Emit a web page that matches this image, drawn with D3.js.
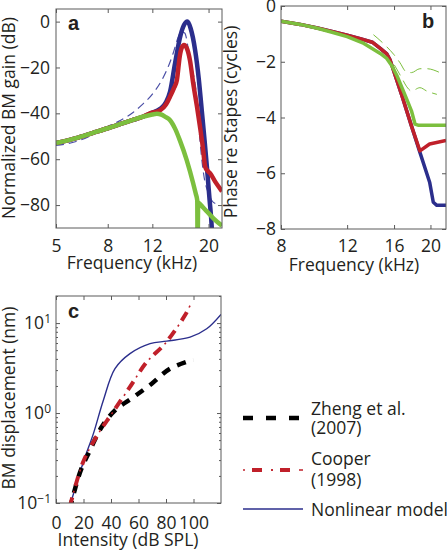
<!DOCTYPE html>
<html><head><meta charset="utf-8">
<script src="https://cdn.jsdelivr.net/npm/d3@7"></script>
<style>
body{margin:0;background:#fff}
svg{display:block}
text{font-family:"Open Sans",sans-serif;fill:#231f20}
</style>
</head><body>
<svg id="chart" width="447" height="555"></svg>
<script>
// ---------- DATA ----------
// Panel a: normalized BM gain (dB) vs frequency (kHz)
const gainTicks = [0, -20, -40, -60, -80];
const freqTicksA = [5, 8, 12, 20];
const gainBlueDashed = [[5,-54],[6,-52.3],[7,-49.3],[8,-45.8],[9,-43],[10.1,-39.5],[11,-36],[12.07,-31.3],[13,-26],[13.6,-21.8],[14.5,-13.8],[15.1,-7.5],[15.6,-4.5],[16.1,-5],[16.9,-16.7],[18.0,-34],[18.5,-51.7],[19.1,-66],[20.0,-75],[20.6,-78],[21.5,-79.5]];
const gainBlue = [[5,-53],[6,-50.8],[7,-48.5],[8,-46.5],[9,-44.6],[10,-43],[11,-41.5],[11.8,-40],[12.9,-38],[13.6,-35],[14.1,-30.5],[14.76,-18],[15.5,-6],[16.0,-1.5],[16.5,0],[17.0,-3],[17.7,-12.4],[18.3,-25],[18.8,-38.6],[19.3,-52],[19.7,-63.3],[20.2,-78],[20.6,-90],[20.8,-100]];
const gainRed = [[5,-53],[6,-50.8],[7,-48.5],[8,-46.5],[9,-44.6],[10,-43],[11,-41.5],[11.76,-40],[12.9,-38.6],[13.6,-36],[14.1,-32.7],[14.6,-29],[15.0,-25.5],[15.4,-15],[15.7,-11.2],[16.0,-10.2],[16.4,-11.5],[16.9,-17],[17.4,-27],[18.0,-37],[18.5,-45.8],[19.0,-55],[19.4,-63.3],[19.8,-65],[20.3,-66.2],[21.3,-70],[22.6,-74]];
const gainGreen = [[5,-53],[6,-50.8],[7,-48.5],[8,-46.5],[9,-44.6],[10,-43],[11,-41.5],[12,-40.5],[12.5,-40.2],[13,-40.5],[13.5,-41.5],[14.1,-43],[14.8,-47],[15.4,-51.7],[16.4,-60.4],[17.4,-70.6],[17.8,-75],[18.05,-78],[18.1,-100],[18.2,-79],[18.5,-79.5],[19,-81],[20,-83.5],[21,-86],[22.6,-89]];

// Panel b: phase re stapes (cycles) vs frequency (kHz)
const phaseTicks = [0, -2, -4, -6, -8];
const freqTicksB = [8, 12, 16, 20];
const phaseBlue = [[8,-0.55],[9,-0.66],[10,-0.79],[11,-0.92],[12,-1.05],[13,-1.17],[14,-1.3],[14.7,-1.52],[15.3,-1.72],[15.6,-1.92],[16.8,-3.23],[17.8,-4.3],[18.75,-5.25],[19.9,-6.32],[20.35,-7.04],[20.8,-7.15],[22,-7.15]];
const phaseRed = [[8,-0.55],[9,-0.66],[10,-0.79],[11,-0.92],[12,-1.05],[13,-1.17],[14,-1.3],[14.7,-1.52],[15.3,-1.72],[15.6,-1.92],[16.8,-3.23],[17.8,-4.3],[18.75,-5.2],[19.9,-4.95],[22,-4.82]];
const phaseGreen = [[8,-0.55],[9,-0.66],[10,-0.8],[11,-0.95],[12,-1.1],[13.2,-1.32],[14.7,-1.7],[15.3,-1.88],[15.8,-2.15],[16.3,-2.51],[17.3,-3.35],[17.8,-3.76],[18.2,-4.24],[18.6,-4.28],[22,-4.28]];
const phaseExpUpper = [[14.1,-1.03],[15.0,-1.35],[16.0,-1.75],[16.6,-2.04],[17.2,-2.35],[17.8,-2.39],[18.75,-2.25],[19.55,-2.25],[21.2,-2.39]];
const phaseExpLower = [[15.0,-1.6],[16.0,-2.1],[16.8,-2.6],[17.3,-2.9],[17.8,-3.05],[18.75,-2.93],[19.55,-3.05],[20.8,-3.17]];

// Panel c: BM displacement (nm) vs intensity (dB SPL)
const intensityTicks = [0, 20, 40, 60, 80, 100];
const dispTicks = [0.1, 1, 10];
const dispMinor = [0.2,0.3,0.4,0.5,0.6,0.7,0.8,0.9,2,3,4,5,6,7,8,9,20];
const zheng = [[10,0.085],[17.5,0.22],[24.7,0.385],[33.2,0.70],[42.9,1.07],[56.2,1.5],[69.6,2.12],[82.9,3.11],[99.9,3.92]];
const cooper = [[10,0.09],[19.9,0.29],[30.8,0.59],[40.5,0.98],[53.8,1.95],[66,3.69],[79.3,5.9],[93.8,12.2],[97.5,15.7]];
const nonlinear = [[10.7,0.10],[19.9,0.286],[27.2,0.59],[34.4,1.38],[42.9,3.11],[53.8,4.57],[68.4,5.9],[80.5,6.3],[97.5,6.98],[109.6,8.65],[120,12.5]];

const legendEntries = [["Zheng et al.","(2007)"],["Cooper","(1998)"],["Nonlinear model"]];

// ---------- COLORS ----------
const BLUE = "#2b2e8c", RED = "#c0202a", GREEN = "#7cbf3e", AXIS = "#5a5a5a";

const svg = d3.select("#chart");
const FS = "17.5px";

function box(g, x0, x1, y0, y1) {
  g.append("rect").attr("x", x0).attr("y", y0).attr("width", x1 - x0).attr("height", y1 - y0)
    .attr("fill", "none").attr("stroke", AXIS).attr("stroke-width", 1);
}
function styleAxis(sel) {
  sel.select(".domain").remove();
  sel.selectAll("line").attr("stroke", AXIS);
  sel.selectAll("text").style("font-size", FS).attr("fill", "#231f20").style("font-family", '"Open Sans",sans-serif');
}
function clip(id, x0, x1, y0, y1) {
  svg.append("clipPath").attr("id", id).append("rect")
    .attr("x", x0).attr("y", y0).attr("width", x1 - x0).attr("height", y1 - y0);
}

// ---------- PANEL A ----------
{
  const L = 56, R = 222, T = 9, B = 228;
  const x = d3.scaleLog().domain([5, 22.6]).range([L, R]);
  const y = d3.scaleLinear().domain([-90, 5.5]).range([B, T]);
  const g = svg.append("g");
  clip("clipA", L, R, T, B);
  const line = d3.line().x(d => x(d[0])).y(d => y(d[1])).curve(d3.curveMonotoneX);
  const pg = g.append("g").attr("clip-path", "url(#clipA)");
  pg.append("path").datum(gainBlueDashed).attr("d", line).attr("fill", "none")
    .attr("stroke", "#4b4fa6").attr("stroke-width", 1.2).attr("stroke-dasharray", "8,5");
  pg.append("path").datum(gainBlue).attr("d", line).attr("fill", "none")
    .attr("stroke", BLUE).attr("stroke-width", 4.5);
  pg.append("path").datum(gainRed).attr("d", line).attr("fill", "none")
    .attr("stroke", RED).attr("stroke-width", 4.5);
  pg.append("path").datum(gainGreen).attr("d", line).attr("fill", "none")
    .attr("stroke", GREEN).attr("stroke-width", 4.5);
  box(g, L, R, T, B);
  g.append("g").attr("transform", `translate(${L},0)`)
    .call(d3.axisLeft(y).tickValues(gainTicks).tickSize(-4).tickPadding(6)).call(styleAxis);
  g.append("g").attr("transform", `translate(${R},0)`)
    .call(d3.axisRight(y).tickValues(gainTicks).tickSize(-4).tickFormat("")).call(styleAxis);
  g.append("g").attr("transform", `translate(0,${B})`)
    .call(d3.axisBottom(x).tickValues(freqTicksA).tickSize(-4).tickPadding(12).tickFormat(d3.format("d"))).call(styleAxis);
  g.append("g").attr("transform", `translate(0,${T})`)
    .call(d3.axisTop(x).tickValues(freqTicksA).tickSize(-4).tickFormat("")).call(styleAxis);
  g.append("text").attr("x", 68).attr("y", 30).text("a")
    .style("font-family", "Liberation Sans, Arial, sans-serif").style("font-weight", "bold").style("font-size", "20px");
  g.append("text").attr("transform", "translate(15,118) rotate(-90)").attr("text-anchor", "middle")
    .style("font-size", FS).text("Normalized BM gain (dB)");
  g.append("text").attr("x", 132).attr("y", 269).attr("text-anchor", "middle")
    .style("font-size", FS).text("Frequency (kHz)");
}

// ---------- PANEL B ----------
{
  const L = 281, R = 446, T = 6, B = 229;
  const x = d3.scaleLog().domain([8, 22]).range([L, R]);
  const y = d3.scaleLinear().domain([-8, 0]).range([B, T]);
  const g = svg.append("g");
  clip("clipB", L, R, T, B);
  const line = d3.line().x(d => x(d[0])).y(d => y(d[1]));
  const smooth = d3.line().x(d => x(d[0])).y(d => y(d[1])).curve(d3.curveMonotoneX);
  const pg = g.append("g").attr("clip-path", "url(#clipB)");
  [phaseExpUpper, phaseExpLower].forEach(s => {
    pg.append("path").datum(s).attr("d", smooth).attr("fill", "none")
      .attr("stroke", GREEN).attr("stroke-width", 1).attr("stroke-dasharray", "12,6");
  });
  pg.append("path").datum(phaseBlue).attr("d", line).attr("fill", "none")
    .attr("stroke", BLUE).attr("stroke-width", 3.5).attr("stroke-linejoin", "round");
  pg.append("path").datum(phaseRed).attr("d", line).attr("fill", "none")
    .attr("stroke", RED).attr("stroke-width", 3.5).attr("stroke-linejoin", "round");
  pg.append("path").datum(phaseGreen).attr("d", line).attr("fill", "none")
    .attr("stroke", GREEN).attr("stroke-width", 3.5).attr("stroke-linejoin", "round");
  box(g, L, R, T, B);
  g.append("g").attr("transform", `translate(${L},0)`)
    .call(d3.axisLeft(y).tickValues(phaseTicks).tickSize(-4).tickPadding(5)).call(styleAxis);
  g.append("g").attr("transform", `translate(${R},0)`)
    .call(d3.axisRight(y).tickValues(phaseTicks).tickSize(-4).tickFormat("")).call(styleAxis);
  g.append("g").attr("transform", `translate(0,${B})`)
    .call(d3.axisBottom(x).tickValues(freqTicksB).tickSize(-4).tickPadding(11).tickFormat(d3.format("d"))).call(styleAxis);
  g.append("g").attr("transform", `translate(0,${T})`)
    .call(d3.axisTop(x).tickValues(freqTicksB).tickSize(-4).tickFormat("")).call(styleAxis);
  g.append("text").attr("x", 422).attr("y", 28).text("b")
    .style("font-family", "Liberation Sans, Arial, sans-serif").style("font-weight", "bold").style("font-size", "20px");
  g.append("text").attr("transform", "translate(237,122) rotate(-90)").attr("text-anchor", "middle")
    .style("font-size", FS).text("Phase re Stapes (cycles)");
  g.append("text").attr("x", 354).attr("y", 271).attr("text-anchor", "middle")
    .style("font-size", FS).text("Frequency (kHz)");
}

// ---------- PANEL C ----------
{
  const L = 56, R = 221, T = 296, B = 503;
  const x = d3.scaleLinear().domain([0, 120]).range([L, R]);
  const y = d3.scaleLog().domain([0.1, 20]).range([B, T]);
  const g = svg.append("g");
  clip("clipC", L, R, T, B);
  const line = d3.line().x(d => x(d[0])).y(d => y(d[1])).curve(d3.curveCatmullRom.alpha(0.5));
  const pg = g.append("g").attr("clip-path", "url(#clipC)");
  pg.append("path").datum(nonlinear).attr("d", line).attr("fill", "none")
    .attr("stroke", BLUE).attr("stroke-width", 1.4);
  pg.append("path").datum(zheng).attr("d", line).attr("fill", "none")
    .attr("stroke", "#000").attr("stroke-width", 4.5).attr("stroke-dasharray", "9,8");
  // Cooper: thick dashes + thin dots (dash-dot)
  pg.append("path").datum(cooper).attr("d", line).attr("fill", "none")
    .attr("stroke", RED).attr("stroke-width", 4).attr("stroke-dasharray", "10,12");
  pg.append("path").datum(cooper).attr("d", line).attr("fill", "none")
    .attr("stroke", RED).attr("stroke-width", 1.6).attr("stroke-dasharray", "0,15,2,5");
  box(g, L, R, T, B);
  const yl = g.append("g").attr("transform", `translate(${L},0)`)
    .call(d3.axisLeft(y).tickValues(dispTicks).tickSize(-4).tickPadding(5).tickFormat(() => "")).call(styleAxis);
  yl.selectAll(".tick text").each(function(d) {
    const t = d3.select(this);
    t.append("tspan").text("10");
    t.append("tspan").attr("dy", "-0.55em").style("font-size", "12px").text(d3.format("d")(Math.round(Math.log10(d))).replace("-", "\u2212"));
  });
  g.append("g").attr("transform", `translate(${L},0)`)
    .call(d3.axisLeft(y).tickValues(dispMinor).tickSize(-2).tickFormat("")).call(styleAxis);
  g.append("g").attr("transform", `translate(${R},0)`)
    .call(d3.axisRight(y).tickValues(dispTicks).tickSize(-4).tickFormat("")).call(styleAxis);
  g.append("g").attr("transform", `translate(${R},0)`)
    .call(d3.axisRight(y).tickValues(dispMinor).tickSize(-2).tickFormat("")).call(styleAxis);
  g.append("g").attr("transform", `translate(0,${B})`)
    .call(d3.axisBottom(x).tickValues(intensityTicks).tickSize(-4).tickPadding(14).tickFormat(d3.format("d"))).call(styleAxis);
  g.append("g").attr("transform", `translate(0,${T})`)
    .call(d3.axisTop(x).tickValues(intensityTicks).tickSize(-4).tickFormat("")).call(styleAxis);
  g.append("text").attr("x", 68).attr("y", 318).text("c")
    .style("font-family", "Liberation Sans, Arial, sans-serif").style("font-weight", "bold").style("font-size", "20px");
  g.append("text").attr("transform", "translate(15,398) rotate(-90)").attr("text-anchor", "middle")
    .style("font-size", FS).text("BM displacement (nm)");
  g.append("text").attr("x", 128).attr("y", 546).attr("text-anchor", "middle")
    .style("font-size", FS).text("Intensity (dB SPL)");

  // legend
  const lg = svg.append("g");
  const styles = [
    {stroke: "#000", parts: [{w: 4.5, dash: "10,13"}], ly: 418, ty: [415, 434]},
    {stroke: RED, parts: [{w: 4, dash: "0,9,10,9"}, {w: 1.6, dash: "2,26"}, {w: 1.6, dash: "0,28,2,0"}], ly: 470, ty: [465, 486]},
    {stroke: BLUE, parts: [{w: 1.4, dash: null}], ly: 509, ty: [516]}
  ];
  legendEntries.forEach((lab, i) => {
    const s = styles[i];
    s.parts.forEach(p => {
      lg.append("line").attr("x1", 243).attr("x2", 303).attr("y1", s.ly).attr("y2", s.ly)
        .attr("stroke", s.stroke).attr("stroke-width", p.w).attr("stroke-dasharray", p.dash);
    });
    lab.forEach((t, j) => {
      lg.append("text").attr("x", 311).attr("y", s.ty[j]).style("font-size", FS).text(t);
    });
  });
}
</script>
</body></html>
